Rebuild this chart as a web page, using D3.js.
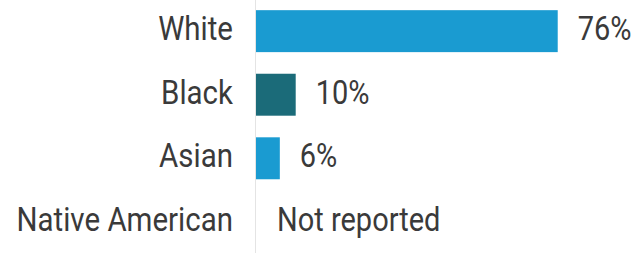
<!DOCTYPE html>
<html><head><meta charset="utf-8">
<script src="https://cdn.jsdelivr.net/npm/d3@7"></script>
<style>html,body{margin:0;padding:0;background:#fff;overflow:hidden}</style>
</head><body>
<svg id="c" width="644" height="253"></svg>
<script>
const categories = ["White", "Black", "Asian", "Native American"];
const values = [76, 10, 6, null];
const valueLabels = ["76%", "10%", "6%", "Not reported"];
const barColors = ["#1a9bd1", "#1b6b79", "#1a9bd1", "#1a9bd1"];

const svg = d3.select("#c");
const x = d3.scaleLinear().domain([0, 100]).range([256, 653]);
const y = d3.scaleBand().domain(categories).range([0, 253]).paddingInner(0.34).paddingOuter(0.16);

svg.append("line").attr("x1", 255.5).attr("x2", 255.5).attr("y1", 0).attr("y2", 253)
  .attr("stroke", "#e4e4e4").attr("stroke-width", 1);

const rows = categories.map((c, i) => ({c, v: values[i], lab: valueLabels[i], col: barColors[i]}));

svg.selectAll("rect.bar").data(rows.filter(d => d.v != null)).join("rect")
  .attr("class", "bar")
  .attr("x", x(0)).attr("y", d => y(d.c))
  .attr("width", d => x(d.v) - x(0)).attr("height", y.bandwidth())
  .attr("fill", d => d.col);

const sy = 1.15;
svg.selectAll("text.cat").data(rows).join("text")
  .attr("class", "cat")
  .attr("transform", d => `translate(233,${y(d.c) + y.bandwidth() / 2 + 9}) scale(1,${sy})`)
  .attr("text-anchor", "end")
  .attr("font-family", "Roboto").attr("font-size", 29.5).attr("fill", "#3a3a3a")
  .text(d => d.c);

svg.selectAll("text.val").data(rows).join("text")
  .attr("class", "val")
  .attr("transform", d => `translate(${x(d.v == null ? 0 : d.v) + (d.v == null ? 21 : 20)},${y(d.c) + y.bandwidth() / 2 + 9}) scale(1,${sy})`)
  .attr("font-family", "Roboto").attr("font-size", 29).attr("fill", "#3a3a3a")
  .text(d => d.lab);
</script>
</body></html>
